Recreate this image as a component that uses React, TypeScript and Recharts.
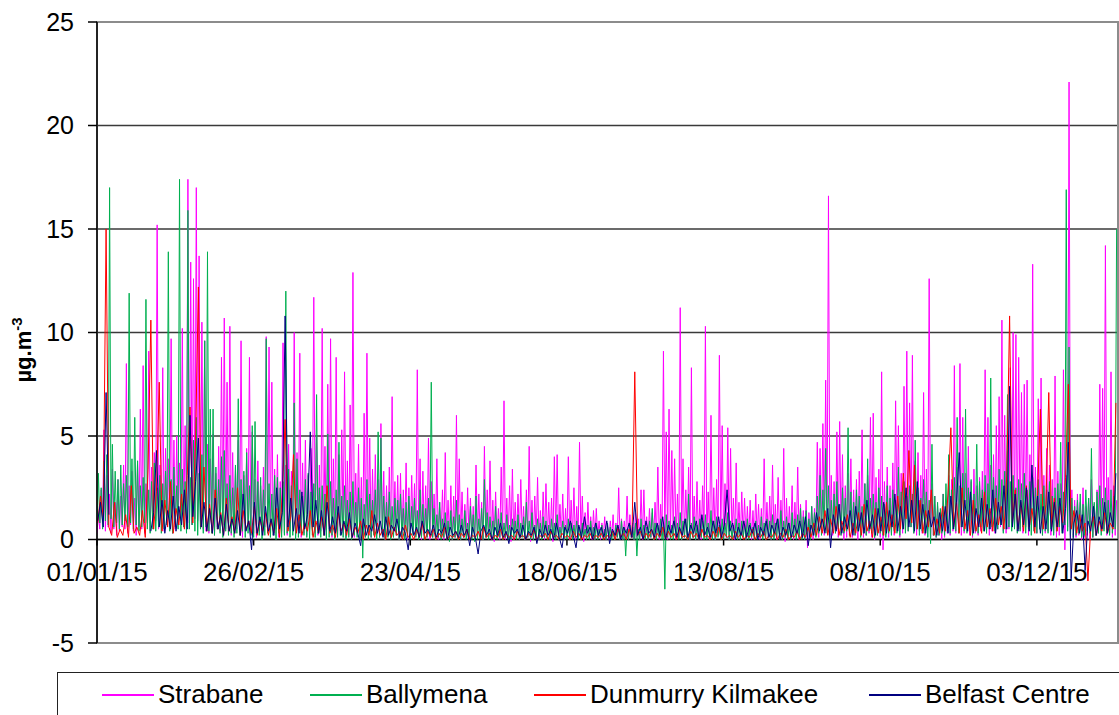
import { LineChart, Line, XAxis, YAxis, CartesianGrid, ReferenceLine, ReferenceArea, Legend } from "recharts";

// day index 0 = 01/01/15
const xTickDays = [0, 56, 112, 168, 224, 280, 336];
const xTickLabels = ["01/01/15", "26/02/15", "23/04/15", "18/06/15", "13/08/15", "08/10/15", "03/12/15"];
const yTicks = [-5, 0, 5, 10, 15, 20, 25];
const seriesNames = ["Strabane", "Ballymena", "Dunmurry Kilmakee", "Belfast Centre"];
const seriesColors = ["#FF00FF", "#00B050", "#FF0000", "#000080"];

// daily low / daily high readings (µg.m-3)
const strabaneHigh = [
  1.2, 2.4, 5.3, 3.1, 2.2, 3.4, 1.8, 2.9, 2.1, 3.6,
  8.5, 2.6, 3.3, 2.0, 3.8, 6.3, 8.4, 2.7, 9.1, 3.5,
  4.2, 15.2, 3.6, 8.3, 4.4, 3.9, 9.7, 4.8, 5.0, 3.7,
  10.2, 5.5, 17.4, 13.4, 12.6, 17.0, 13.7, 10.5, 9.6, 4.6,
  3.9, 5.1, 3.2, 4.5, 8.8, 10.7, 7.6, 10.3, 4.2, 3.5,
  4.8, 9.6, 3.1, 4.4, 8.8, 5.2, 2.9, 3.8, 2.6, 3.5,
  9.8, 9.3, 7.6, 3.4, 4.1, 2.8, 9.5, 3.6, 4.6, 3.3,
  10.0, 4.2, 9.0, 3.7, 4.8, 3.1, 4.4, 11.7, 5.0, 3.6,
  10.2, 4.5, 7.5, 9.7, 3.9, 8.8, 4.1, 5.3, 8.1, 3.8,
  6.5, 12.9, 3.2, 4.6, 3.0, 6.1, 9.0, 4.9, 3.4, 4.1,
  2.9, 5.6, 3.3, 2.6, 3.5, 6.9, 2.8, 3.1, 3.2, 2.4,
  3.7, 2.5, 3.1, 2.7, 8.2, 3.9, 3.3, 2.6, 4.9, 2.8,
  2.2, 3.9, 1.8, 2.4, 4.2, 1.9, 2.6, 2.1, 6.0, 3.9,
  2.3, 1.7, 2.5, 2.0, 1.6, 3.6, 2.2, 1.8, 4.5, 2.4,
  3.8, 1.9, 2.3, 1.5, 3.5, 6.7, 2.0, 2.6, 3.4, 1.8,
  2.2, 2.9, 1.6, 2.4, 4.5, 1.9, 2.1, 3.0, 1.4, 2.3,
  2.7, 1.8, 2.0, 4.0, 4.1, 1.7, 2.2, 1.5, 4.0, 1.9,
  2.5, 1.6, 4.7, 2.1, 1.3, 1.8, 1.1, 1.4, 1.5, 0.9,
  0.8, 1.1, 0.7, 0.9, 1.2, 0.8, 2.5, 1.0, 0.9, 2.1,
  1.2, 0.8, 1.3, 1.0, 2.4, 2.4, 1.1, 1.5, 1.3, 1.8,
  3.5, 1.7, 9.1, 5.2, 6.3, 4.3, 3.9, 2.2, 11.2, 3.9,
  2.4, 3.5, 8.3, 2.1, 2.8, 1.9, 2.6, 10.3, 2.3, 6.0,
  2.5, 2.9, 8.9, 5.5, 2.7, 5.4, 4.4, 2.0, 3.7, 1.8,
  2.3, 2.0, 1.6, 1.9, 1.4, 2.2, 1.7, 1.5, 3.9, 1.8,
  2.1, 3.6, 1.7, 3.0, 1.9, 4.4, 2.0, 1.6, 2.6, 1.8,
  3.5, 1.7, 1.4, 1.9, 1.3, 1.6, 1.5, 4.7, 4.4, 5.6,
  7.7, 16.6, 3.1, 2.8, 5.2, 5.7, 4.1, 2.6, 3.2, 3.9,
  2.4, 2.9, 3.3, 5.3, 2.7, 3.1, 5.9, 6.1, 3.0, 3.4,
  8.1, 2.8, 3.5, 2.6, 3.7, 6.7, 5.5, 3.2, 7.4, 9.1,
  6.6, 8.9, 3.8, 4.2, 3.1, 7.1, 3.4, 12.6, 2.7, 2.1,
  1.6, 1.3, 2.2, 1.9, 3.1, 2.9, 8.4, 3.5, 8.5, 5.9,
  3.2, 4.5, 2.8, 3.4, 2.6, 3.0, 3.3, 8.2, 5.9, 3.6,
  4.1, 5.5, 6.9, 10.6, 6.0, 4.3, 8.3, 10.0, 9.9, 8.8,
  7.1, 7.5, 7.7, 4.1, 13.3, 3.5, 6.8, 7.8, 3.1, 4.4,
  3.6, 2.9, 7.9, 3.3, 2.7, 8.2, 3.1, 22.1, 2.4, 1.9,
  2.2, 1.8, 2.5, 1.6, 2.0, 2.9, 1.7, 2.4, 7.5, 7.3,
  14.2, 3.0, 8.1, 2.6, 1.9,
];
const strabaneLow = [
  0.3, 0.5, 0.8, 0.4, 0.6, 0.3, 0.5, 0.2, 0.4, 0.6,
  0.5, 0.3, 0.7, 0.4, 0.2, 0.6, 0.5, 0.3, 0.8, 0.4,
  0.6, 0.9, 0.5, 0.7, 0.4, 0.8, 0.6, 0.3, 0.5, 0.7,
  0.9, 0.6, 1.1, 0.8, 0.7, 1.0, 0.9, 0.6, 0.5, 0.4,
  0.3, 0.5, 0.2, 0.6, 0.4, 0.7, 0.5, 0.3, 0.2, 0.4,
  0.5, 0.3, 0.1, 0.4, 0.6, 0.2, 0.3, 0.1, 0.4, 0.2,
  0.6, 0.4, 0.3, 0.2, 0.5, 0.1, 0.4, 0.3, 0.2, 0.4,
  0.5, 0.2, 0.4, 0.1, 0.3, 0.2, 0.5, 0.6, 0.3, 0.2,
  0.4, 0.3, 0.2, 0.5, 0.1, 0.3, 0.2, 0.4, 0.3, 0.1,
  0.2, 0.5, 0.1, 0.3, 0.0, 0.2, 0.4, 0.2, 0.1, 0.3,
  0.2, 0.1, 0.3, 0.0, 0.2, 0.1, 0.3, 0.2, 0.0, 0.1,
  0.2, 0.0, 0.1, 0.3, 0.2, 0.1, 0.0, 0.2, 0.1, 0.0,
  0.1, 0.2, 0.0, 0.1, 0.0, 0.2, 0.1, 0.0, 0.1, 0.2,
  0.0, 0.1, 0.2, 0.0, 0.1, 0.0, 0.2, 0.1, 0.0, 0.1,
  0.1, 0.0, -0.1, 0.1, 0.0, 0.2, 0.0, 0.1, -0.1, 0.0,
  0.1, 0.0, 0.2, 0.0, 0.1, -0.1, 0.0, 0.1, 0.0, 0.1,
  0.0, 0.1, 0.0, -0.1, 0.1, 0.0, 0.1, 0.0, 0.1, 0.0,
  0.1, 0.0, 0.1, 0.0, -0.1, 0.0, 0.1, 0.0, 0.0, 0.1,
  0.0, 0.1, 0.0, 0.0, 0.1, 0.0, 0.1, 0.0, 0.0, 0.1,
  0.0, 0.1, 0.0, 0.1, 0.0, 0.0, 0.1, 0.0, 0.1, 0.0,
  0.1, 0.0, 0.2, 0.1, 0.0, 0.1, 0.2, 0.0, 0.1, 0.0,
  0.1, 0.2, 0.0, 0.1, 0.0, 0.1, 0.0, 0.2, 0.1, 0.0,
  0.1, 0.0, 0.2, 0.1, 0.0, 0.1, 0.0, 0.1, 0.0, 0.1,
  0.0, 0.1, 0.0, 0.1, 0.0, 0.0, 0.1, 0.0, 0.1, 0.0,
  0.1, 0.0, 0.1, 0.0, 0.1, 0.0, -0.1, 0.0, 0.1, 0.0,
  0.1, 0.0, 0.1, 0.0, -0.4, 0.1, 0.0, 0.2, 0.1, 0.3,
  0.2, 0.4, 0.1, 0.2, 0.3, 0.1, 0.2, 0.0, 0.1, 0.2,
  0.1, 0.2, 0.0, 0.3, 0.1, 0.2, 0.3, 0.1, 0.0, 0.2,
  0.1, -0.5, 0.2, 0.1, 0.3, 0.2, 0.4, 0.1, 0.3, 0.5,
  0.4, 0.6, 0.3, 0.2, 0.4, 0.3, 0.2, 0.5, 0.1, 0.2,
  0.1, 0.2, 0.0, 0.1, 0.3, 0.2, 0.4, 0.3, 0.5, 0.2,
  0.3, 0.4, 0.2, 0.1, 0.3, 0.2, 0.4, 0.5, 0.3, 0.2,
  0.4, 0.3, 0.5, 0.6, 0.4, 0.3, 0.5, 0.7, 0.6, 0.4,
  0.5, 0.3, 0.6, 0.2, 0.7, 0.4, 0.3, 0.5, 0.2, 0.3,
  0.4, 0.2, 0.3, 0.1, 0.2, 0.4, -0.5, 0.6, 0.1, 0.2,
  0.1, 0.2, 0.0, 0.1, 0.2, 0.0, 0.1, 0.2, 0.3, 0.4,
  0.5, 0.2, 0.3, 0.1, 0.2,
];

const ballymenaHigh = [
  3.2, 2.5, 3.8, 4.1, 17.0, 4.6, 3.3, 2.9, 3.6, 2.7,
  3.1, 11.9, 3.9, 5.9, 3.8, 2.6, 3.0, 11.6, 2.4, 2.8,
  3.7, 2.5, 3.1, 2.7, 3.3, 13.9, 2.9, 3.5, 2.6, 17.4,
  3.4, 2.8, 15.9, 3.0, 4.8, 5.9, 3.2, 4.1, 9.6, 13.9,
  6.3, 6.3, 3.5, 2.9, 4.0, 4.3, 2.7, 3.1, 2.5, 3.6,
  6.8, 2.9, 3.3, 4.2, 2.6, 5.5, 5.7, 2.8, 3.0, 2.4,
  9.7, 2.7, 2.2, 3.1, 3.0, 2.5, 2.8, 12.0, 3.4, 2.6,
  6.6, 3.9, 2.4, 2.1, 2.9, 3.2, 2.3, 2.7, 7.0, 2.5,
  2.6, 2.2, 5.1, 2.8, 2.0, 2.4, 4.7, 2.1, 2.6, 1.9,
  2.3, 2.8, 1.8, 2.5, 2.0, 1.7, 2.9, 2.2, 1.9, 2.4,
  5.2, 4.9, 2.1, 1.8, 2.3, 1.6, 2.0, 1.9, 2.2, 1.5,
  1.8, 2.1, 1.6, 2.0, 1.4, 2.4, 1.7, 1.5, 2.0, 7.6,
  1.5, 1.2, 1.8, 1.0, 1.3, 0.9, 1.4, 1.1, 1.9, 1.2,
  1.0, 1.4, 0.8, 1.6, 1.2, 2.1, 1.0, 1.5, 2.9, 1.3,
  1.1, 0.9, 1.6, 1.0, 1.3, 0.8, 1.2, 0.7, 1.0, 0.9,
  1.2, 0.8, 1.1, 1.8, 0.9, 1.3, 0.7, 1.0, 0.8, 1.1,
  0.9, 0.7, 1.0, 0.8, 1.2, 0.6, 0.9, 0.7, 1.0, 0.8,
  0.7, 0.9, 0.6, 0.8, 0.5, 0.7, 0.9, 0.6, 0.8, 0.5,
  0.7, 0.5, 0.8, 0.6, 0.4, 0.7, 0.5, 0.9, 0.6, 0.5,
  0.7, 0.6, 0.8, 0.5, 1.0, 0.7, 0.6, 0.9, 1.5, 0.8,
  0.7, 1.0, 0.8, 1.2, 0.9, 0.7, 1.1, 0.8, 1.3, 0.9,
  1.0, 2.2, 0.8, 1.1, 0.7, 1.0, 0.9, 1.2, 0.8, 1.4,
  0.9, 1.1, 0.7, 1.0, 0.8, 1.3, 0.9, 0.7, 1.0, 0.8,
  0.9, 0.7, 1.0, 0.8, 0.6, 0.9, 0.7, 1.1, 0.8, 1.0,
  0.9, 1.2, 0.8, 1.0, 1.4, 0.9, 1.1, 0.8, 1.3, 1.0,
  1.2, 1.5, 1.1, 1.4, 1.0, 1.6, 1.3, 2.1, 3.1, 2.4,
  4.4, 2.6, 1.9, 2.2, 2.8, 1.7, 2.5, 2.0, 5.4, 2.3,
  1.8, 2.4, 2.1, 1.6, 2.7, 3.9, 2.0, 2.2, 1.8, 2.5,
  2.1, 1.7, 2.6, 2.0, 2.4, 1.9, 3.5, 2.3, 2.8, 2.1,
  2.6, 2.2, 4.8, 2.5, 2.0, 2.9, 2.3, 1.9, 4.6, 2.1,
  1.8, 1.5, 2.2, 2.7, 4.1, 2.4, 3.0, 5.9, 2.6, 3.2,
  6.3, 2.5, 2.9, 2.2, 4.6, 2.8, 2.4, 3.1, 2.7, 7.8,
  3.0, 2.6, 3.4, 2.9, 3.3, 7.0, 2.8, 3.1, 2.5, 2.9,
  2.7, 3.2, 2.4, 2.8, 3.0, 2.5, 2.9, 2.2, 2.6, 2.4,
  2.8, 2.1, 2.5, 2.7, 4.7, 2.3, 16.9, 9.3, 2.0, 1.6,
  1.9, 2.2, 1.7, 2.4, 2.0, 4.4, 1.8, 2.3, 2.6, 2.0,
  2.5, 1.9, 2.4, 2.1, 15.0,
];
const ballymenaLow = [
  0.6, 0.8, 0.5, 0.9, 0.7, 1.0, 0.6, 0.8, 0.5, 0.7,
  0.9, 0.6, 0.8, 0.5, 0.7, 0.4, 0.6, 0.8, 0.5, 0.3,
  0.5, 0.4, 0.6, 0.3, 0.5, 0.7, 0.4, 0.3, 0.6, 0.5,
  0.4, 0.6, 0.3, 0.5, 0.7, 0.4, 0.2, 0.5, 0.3, 0.6,
  0.4, 0.3, 0.2, 0.5, 0.3, 0.1, 0.4, 0.2, 0.3, 0.1,
  0.3, 0.2, 0.4, 0.1, 0.3, 0.2, 0.1, 0.3, 0.2, 0.0,
  0.2, 0.3, 0.1, 0.2, 0.0, 0.3, 0.1, 0.2, 0.3, 0.1,
  0.2, 0.0, 0.1, 0.3, 0.2, 0.1, 0.0, 0.2, 0.1, 0.3,
  0.1, 0.2, 0.0, 0.1, 0.2, 0.0, 0.1, 0.2, 0.1, 0.0,
  0.1, 0.0, 0.2, 0.1, 0.0, -0.9, 0.1, 0.0, 0.1, 0.2,
  0.0, 0.1, 0.2, 0.0, 0.1, 0.0, 0.1, 0.2, 0.0, 0.1,
  0.0, 0.1, 0.0, 0.2, 0.1, 0.0, 0.1, 0.0, 0.1, 0.2,
  0.1, 0.0, 0.1, 0.0, 0.1, 0.0, -0.1, 0.0, 0.1, 0.0,
  0.0, 0.1, 0.0, 0.1, 0.0, -0.1, 0.0, 0.1, 0.0, 0.1,
  0.0, 0.1, 0.0, 0.0, 0.1, 0.0, 0.1, 0.0, 0.0, 0.1,
  0.0, 0.0, 0.1, 0.0, 0.1, 0.0, 0.0, 0.1, 0.0, 0.0,
  0.1, 0.0, 0.0, 0.1, 0.0, 0.0, 0.1, 0.0, 0.0, 0.1,
  0.0, 0.1, 0.0, 0.0, 0.1, 0.0, 0.0, 0.1, 0.0, 0.0,
  0.1, 0.0, 0.0, 0.1, 0.0, 0.0, 0.1, 0.0, 0.0, -0.8,
  0.0, 0.1, 0.0, -0.8, 0.0, 0.1, 0.0, 0.0, 0.1, 0.0,
  0.0, 0.1, 0.0, -2.4, 0.1, 0.0, 0.0, 0.1, 0.0, 0.0,
  0.1, 0.0, 0.0, 0.1, 0.0, 0.0, 0.1, 0.0, 0.0, 0.1,
  0.0, 0.0, 0.1, 0.0, 0.0, 0.1, 0.0, 0.0, 0.1, 0.0,
  0.0, 0.1, 0.0, 0.0, 0.1, 0.0, 0.0, 0.1, 0.0, 0.0,
  0.1, 0.0, 0.0, 0.1, 0.0, 0.0, 0.1, 0.0, 0.0, 0.1,
  0.0, 0.1, 0.0, 0.0, 0.1, 0.0, 0.2, 0.1, 0.3, 0.2,
  0.4, 0.3, 0.2, 0.4, 0.3, 0.5, 0.2, 0.3, 0.4, 0.2,
  0.3, 0.2, 0.4, 0.1, 0.3, 0.2, 0.4, 0.3, 0.1, 0.2,
  0.3, 0.2, 0.1, 0.3, 0.2, 0.4, 0.3, 0.2, 0.5, 0.3,
  0.4, 0.6, 0.3, 0.5, 0.2, 0.4, 0.3, 0.1, -0.2, 0.2,
  0.1, 0.2, 0.3, 0.2, 0.4, 0.3, 0.5, 0.4, 0.3, 0.6,
  0.4, 0.3, 0.5, 0.2, 0.4, 0.3, 0.6, 0.4, 0.3, 0.5,
  0.6, 0.4, 0.5, 0.7, 0.3, 0.5, 0.6, 0.4, 0.5, 0.3,
  0.4, 0.6, 0.3, 0.5, 0.2, 0.4, 0.3, 0.5, 0.2, 0.4,
  0.3, 0.5, 0.2, 0.4, 0.6, 0.3, 0.7, 0.4, 0.2, 0.1,
  0.2, 0.3, 0.1, 0.2, 0.4, 0.3, 0.1, 0.2, 0.3, 0.2,
  0.4, 0.3, 0.2, 0.3, 0.5,
];

const dunmurry = [
  0.8, 2.1, 1.1, 15.0, 0.6, 0.2, 1.8, 0.1, 0.5, 0.2,
  1.2, 0.1, 2.6, 0.3, 0.6, 0.2, 1.4, 0.1, 3.4, 10.6,
  0.5, 2.3, 7.6, 0.4, 1.9, 0.6, 2.8, 0.3, 1.5, 0.7,
  2.2, 0.5, 3.1, 6.4, 0.8, 4.8, 12.2, 0.6, 3.5, 0.4,
  1.7, 0.3, 2.4, 0.5, 1.3, 0.2, 2.0, 0.4, 1.1, 0.3,
  2.5, 0.2, 1.4, 0.5, 0.9, 0.3, 1.6, 0.2, 1.0, 0.4,
  1.3, 0.2, 0.9, 0.3, 1.5, 0.1, 2.2, 5.8, 0.4, 1.1,
  4.1, 0.3, 1.2, 0.2, 0.8, 0.4, 1.4, 0.1, 0.9, 0.3,
  1.1, 0.2, 2.6, 0.3, 0.7, 0.1, 1.3, 0.4, 0.8, 0.2,
  1.0, 0.1, 0.6, 0.3, 0.9, 0.0, 0.7, 0.2, 1.4, 0.1,
  0.8, 0.2, 0.5, 0.0, 1.1, 0.1, 0.6, 0.2, 0.4, 0.0,
  0.7, 0.1, 0.3, 0.0, 0.5, 0.1, 0.8, 0.0, 0.4, 0.1,
  0.5, 0.0, 0.3, 0.1, 0.6, 0.0, 0.2, 0.1, 0.4, 0.0,
  0.3, 0.1, 0.5, 0.0, 0.2, 0.1, 0.4, 0.0, 0.6, 0.1,
  0.3, 0.0, 0.2, 0.1, 0.5, 0.0, 0.3, 0.1, 0.2, 0.0,
  0.4, 0.1, 0.2, 0.0, 0.3, 0.1, 0.5, 0.0, 0.2, 0.1,
  0.3, 0.0, 0.4, 0.1, 0.2, 0.0, 0.3, 0.1, 0.2, 0.0,
  0.4, 0.1, 0.3, 0.0, 0.2, 0.1, 0.3, 0.0, 0.2, 0.1,
  0.3, 0.0, 0.2, 0.1, 0.4, 0.0, 0.6, 0.1, 0.3, 0.0,
  0.5, 0.1, 8.1, 0.2, 0.4, 0.0, 0.3, 0.1, 0.5, 0.0,
  0.3, 0.1, 0.6, 0.0, 0.4, 0.1, 0.3, 0.0, 0.5, 0.1,
  0.2, 0.0, 0.4, 0.1, 0.3, 0.0, 0.5, 0.1, 0.2, 0.0,
  0.4, 0.1, 0.6, 0.0, 0.3, 0.1, 0.2, 0.0, 0.4, 0.1,
  0.3, 0.0, 0.2, 0.1, 0.5, 0.0, 0.3, 0.1, 0.4, 0.0,
  0.2, 0.1, 0.4, 0.0, 0.3, 0.1, 0.5, 0.0, 0.2, 0.1,
  0.4, 0.0, 0.3, 0.1, 0.6, 0.1, 0.8, 0.2, 1.1, 0.3,
  1.4, 0.2, 1.0, 0.3, 1.6, 0.2, 0.9, 0.4, 1.2, 0.1,
  0.8, 0.3, 1.3, 0.2, 1.7, 0.4, 0.9, 0.1, 1.5, 0.3,
  1.1, 0.2, 1.8, 0.4, 1.2, 0.3, 2.1, 0.5, 3.2, 1.0,
  4.3, 0.8, 3.6, 0.5, 1.9, 0.3, 1.4, 0.6, 2.4, 0.2,
  1.0, 0.3, 1.6, 0.4, 2.2, 5.4, 0.6, 1.8, 0.3, 2.5,
  0.5, 1.4, 0.2, 1.9, 0.4, 1.2, 0.3, 2.3, 0.6, 1.5,
  0.4, 2.0, 0.7, 1.6, 0.5, 3.1, 10.8, 0.8, 2.4, 0.5,
  1.8, 0.4, 2.6, 0.6, 1.5, 0.3, 2.2, 6.3, 0.5, 1.7,
  7.1, 0.6, 2.0, 0.4, 1.6, 0.8, 3.0, 7.5, 0.5, 1.4,
  0.3, 1.2, 0.4, 0.8, -2.0, 0.6, 1.1, 0.2, 0.9, 0.4,
  1.3, 0.3, 0.8, 0.5, 6.6,
];

// null = no data
const belfast = [
  0.9, 1.8, 0.6, 7.1, 1.2, null, null, null, null, null,
  null, null, null, null, null, null, null, null, null, 0.4,
  1.3, 4.3, 0.6, 1.9, 0.3, 1.4, 0.5, 2.1, 0.4, 1.6,
  0.7, 2.4, 0.5, 6.0, 1.1, 2.8, 4.9, 0.6, 1.8, 0.4,
  1.5, 0.3, 2.0, 0.5, 1.2, 0.2, 1.7, 0.4, 1.0, 0.3,
  1.4, 0.2, 2.2, 0.4, 0.9, -0.5, 1.8, 0.3, 1.1, 0.2,
  1.6, 0.4, 1.0, 0.2, 2.5, 0.5, 1.3, 10.8, 0.6, 2.0,
  0.4, 1.5, 0.3, 2.3, 0.5, 1.2, 5.2, 0.6, 1.9, 0.3,
  1.4, 0.2, 1.8, 0.4, 1.1, 0.3, 1.6, 0.2, 0.9, 0.4,
  1.3, 0.1, 0.8, 0.3, -0.3, 1.0, 0.2, 0.7, 0.4, 1.2,
  0.3, 0.9, 0.1, 1.1, 0.2, 0.7, 0.4, 1.0, 0.1, 0.6,
  0.3, -0.5, 0.8, 0.2, 0.6, 0.1, 0.9, 0.3, 0.5, 0.2,
  0.7, 0.1, 0.5, 0.3, 0.8, 0.0, 0.6, 0.2, 0.4, 0.1,
  0.7, 0.2, 0.5, -0.3, 0.6, 0.1, -0.7, 0.4, 0.7, 0.2,
  0.5, 0.0, 0.6, 0.2, 0.8, 0.1, 0.4, -0.2, 0.6, 0.3,
  0.5, 0.1, 0.7, 0.0, 0.4, 0.2, 0.6, -0.2, 0.5, 0.1,
  0.7, 0.2, 0.5, 0.0, 0.8, 0.1, -0.4, 0.6, 0.3, 0.9,
  0.2, -0.4, 0.7, 0.1, 1.1, 0.3, 0.6, 0.0, 0.8, 0.2,
  0.6, 0.1, 0.9, -0.2, 0.5, 0.2, 0.7, 0.0, 0.6, 0.3,
  0.8, 0.1, 1.8, 0.2, 0.6, 0.0, 0.9, 0.3, 0.5, 0.1,
  0.8, 0.2, 1.1, 0.0, 0.7, 0.3, 0.9, 0.1, 0.6, 0.2,
  1.0, 0.1, 0.7, 0.3, 0.9, 0.0, 1.2, 0.2, 0.6, 0.1,
  0.9, 0.3, 1.1, 0.1, 0.7, 2.4, 0.4, 0.8, 0.0, 0.6,
  0.2, 0.9, 0.1, 0.7, 0.3, 0.8, 0.0, 0.6, 0.2, 0.9,
  0.1, 0.7, 0.3, 1.0, 0.0, 0.6, 0.2, 0.8, 0.1, 0.7,
  0.3, 0.9, 0.1, 1.1, -0.3, 0.7, 0.2, 1.3, 0.4, 1.0,
  0.3, 1.5, -0.4, 1.2, 0.4, 1.7, 0.3, 1.1, 0.5, 1.4,
  0.2, 1.6, 0.4, 1.3, 0.3, 1.9, 0.5, 1.2, 0.2, 1.5,
  0.4, 1.8, 0.3, 1.4, 0.6, 2.2, 0.4, 1.6, 0.5, 2.5,
  0.6, 1.9, 0.4, 2.8, 0.5, 1.7, 0.3, 1.4, 0.6, 1.1,
  0.2, 1.3, 0.4, 1.6, 0.3, 2.1, 0.5, 1.8, 4.2, 0.6,
  1.9, 0.4, 2.3, 0.3, 1.5, 0.6, 2.0, 0.4, 1.7, 0.5,
  2.4, 0.3, 1.8, 0.7, 2.6, 0.5, 7.4, 0.6, 2.2, 0.4,
  1.9, 0.7, 2.5, 0.4, 3.6, 0.6, 2.1, 0.3, 1.6, 0.5,
  2.3, 0.4, 1.8, 0.6, 2.0, 0.3, 1.5, 4.7, -1.9, 0.8,
  1.4, 0.3, 1.2, -1.5, 0.9, 0.4, 1.6, 0.2, 1.1, 0.5,
  1.8, 0.3, 1.3, 0.6, 3.2,
];

const W = 1119;
const H = 715;
const PLOT_TOP = 22;
const PLOT_BOTTOM = 643;
const Y_MIN = -5;
const Y_MAX = 25;
const ZERO_ABOVE_BOTTOM = ((0 - Y_MIN) / (Y_MAX - Y_MIN)) * (PLOT_BOTTOM - PLOT_TOP);
const FONT = "'Liberation Sans', Arial, sans-serif";

const lowHigh = (low: number[], high: number[]) =>
  low.flatMap((v, i) => [{ day: i, v }, { day: i + 0.5, v: high[i] }]);
const daily = (vals: (number | null)[]) => vals.map((v, i) => ({ day: i + 0.25, v }));

const seriesData = [
  lowHigh(strabaneLow, strabaneHigh),
  lowHigh(ballymenaLow, ballymenaHigh),
  daily(dunmurry),
  daily(belfast),
];

// x labels sit just under the zero line, like the original
const XTick = (props: any) => {
  const { x, y, payload } = props;
  const zy = y - ZERO_ABOVE_BOTTOM;
  const label = xTickLabels[xTickDays.indexOf(payload.value)];
  return (
    <g>
      <line x1={x} x2={x} y1={zy} y2={zy + 6} stroke="#000" strokeWidth={1.5} />
      <text x={x} y={zy + 41} textAnchor="middle" fontSize={26} fontFamily={FONT} fill="#000">
        {label}
      </text>
    </g>
  );
};

const YLabel = () => (
  <text
    transform="translate(31,350) rotate(-90)"
    textAnchor="middle"
    fontSize={22}
    fontWeight="bold"
    fontFamily={FONT}
    fill="#000"
  >
    µg.m
    <tspan dy={-9} fontSize={15}>-3</tspan>
  </text>
);

const legendX = [44, 252, 476, 811];

const LegendBox = () => (
  <div
    style={{
      position: "relative",
      width: 1100,
      height: 60,
      border: "1px solid #222",
      boxSizing: "border-box",
      background: "#fff",
      fontFamily: FONT,
      fontSize: 26,
    }}
  >
    {seriesNames.map((name, i) => (
      <div
        key={name}
        style={{ position: "absolute", left: legendX[i], top: 6, display: "flex", alignItems: "center", whiteSpace: "nowrap" }}
      >
        <span style={{ display: "inline-block", width: 52, height: 2, background: seriesColors[i], marginRight: 4 }} />
        <span style={{ color: "#000" }}>{name}</span>
      </div>
    ))}
  </div>
);

export default function App() {
  return (
    <div style={{ position: "absolute", left: 0, top: 0, width: W, height: H, overflow: "hidden", background: "#fff" }}>
      <LineChart width={W} height={H} margin={{ top: PLOT_TOP, right: 1, bottom: 42, left: 0 }}>
        <CartesianGrid vertical={false} stroke="#3a3a3a" strokeWidth={1.5} />
        <ReferenceArea x1={0} x2={365} y1={Y_MIN} y2={Y_MAX} fill="none" stroke="#8c8c8c" strokeWidth={2} ifOverflow="visible" />
        <XAxis
          type="number"
          dataKey="day"
          domain={[0, 365]}
          allowDataOverflow
          ticks={xTickDays}
          interval={0}
          height={30}
          axisLine={false}
          tickLine={false}
          tickSize={0}
          tickMargin={0}
          tick={<XTick />}
        />
        <YAxis
          type="number"
          domain={[Y_MIN, Y_MAX]}
          ticks={yTicks}
          interval={0}
          width={97}
          allowDataOverflow
          axisLine={{ stroke: "#000", strokeWidth: 1.5 }}
          tickLine={{ stroke: "#000", strokeWidth: 1.5 }}
          tickSize={9}
          tickMargin={14}
          tick={{ fontSize: 25, fill: "#000", fontFamily: FONT }}
          label={<YLabel />}
        />
        <ReferenceLine y={0} stroke="#000" strokeWidth={1.5} />
        {seriesNames.map((name, i) => (
          <Line
            key={name}
            name={name}
            data={seriesData[i]}
            dataKey="v"
            stroke={seriesColors[i]}
            strokeWidth={1}
            dot={false}
            activeDot={false}
            isAnimationActive={false}
            connectNulls={false}
          />
        ))}
        <Legend
          layout="horizontal"
          verticalAlign="middle"
          align="center"
          wrapperStyle={{ left: 57, top: 672, width: 1100, height: 60 }}
          content={<LegendBox />}
        />
      </LineChart>
    </div>
  );
}
